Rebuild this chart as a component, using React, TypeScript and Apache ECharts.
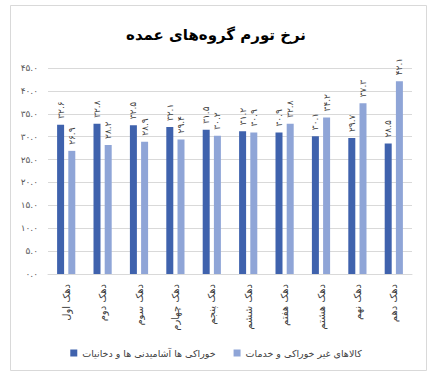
import React, { useEffect, useRef } from "react";
import * as echarts from "echarts";

const title = "نرخ تورم گروه‌های عمده";
const categories = ["دهک اول", "دهک دوم", "دهک سوم", "دهک چهارم", "دهک پنجم", "دهک ششم", "دهک هفتم", "دهک هشتم", "دهک نهم", "دهک دهم"];
const foodName = "خوراکی ها آشامیدنی ها و دخانیات";
const nonFoodName = "کالاهای غیر خوراکی و خدمات";
const foodValues = [32.6, 32.8, 32.5, 32.1, 31.5, 31.2, 30.9, 30.1, 29.7, 28.5];
const nonFoodValues = [26.9, 28.2, 28.9, 29.4, 30.2, 30.9, 32.8, 34.2, 37.3, 42.1];
const yMin = 0;
const yMax = 45;
const yStep = 5;

const fa = "۰۱۲۳۴۵۶۷۸۹";
const toFa = (v: number) => v.toFixed(1).replace(/[0-9]/g, (d) => fa[+d]);

const FONT = "DejaVu Sans";

export default function App() {
  const ref = useRef<HTMLDivElement>(null);
  useEffect(() => {
    const chart = echarts.init(ref.current!, null, { renderer: "svg" });
    const label = {
      show: true,
      position: "top",
      rotate: 90,
      align: "left",
      verticalAlign: "middle",
      distance: 6,
      color: "#404040",
      fontFamily: FONT,
      fontSize: 9,
      formatter: (p: any) => toFa(p.value),
    };
    chart.setOption({
      animation: false,
      textStyle: { fontFamily: FONT },
      title: {
        text: title,
        left: "center",
        top: 22,
        textStyle: { fontFamily: FONT, fontSize: 15, fontWeight: "bold", color: "#000" },
      },
      graphic: [
        {
          type: "rect",
          shape: { x: 10.5, y: 5.5, width: 416, height: 365 },
          style: { fill: "none", stroke: "#d9d9d9", lineWidth: 1 },
          silent: true,
        },
      ],
      legend: {
        bottom: 18,
        left: "center",
        itemGap: 18,
        itemWidth: 7,
        itemHeight: 7,
        icon: "rect",
        textStyle: { fontFamily: FONT, fontSize: 9.5, color: "#404040" },
        data: [foodName, nonFoodName],
      },
      grid: { left: 48, right: 20, top: 68, bottom: 107, containLabel: false },
      xAxis: {
        type: "category",
        data: categories,
        axisLine: { lineStyle: { color: "#d9d9d9" } },
        axisTick: { show: false },
        axisLabel: {
          rotate: 90,
          color: "#404040",
          fontFamily: FONT,
          fontSize: 10,
          margin: 10,
        },
      },
      yAxis: {
        type: "value",
        min: yMin,
        max: yMax,
        interval: yStep,
        axisLine: { show: false },
        axisTick: { show: false },
        splitLine: { lineStyle: { color: "#d9d9d9" } },
        axisLabel: {
          color: "#595959",
          fontFamily: FONT,
          fontSize: 9,
          margin: 10,
          formatter: (v: number) => toFa(v),
        },
      },
      series: [
        {
          name: foodName,
          type: "bar",
          data: foodValues,
          barWidth: 7,
          barGap: "60%",
          itemStyle: { color: "#3F62AD" },
          label,
        },
        {
          name: nonFoodName,
          type: "bar",
          data: nonFoodValues,
          barWidth: 7,
          barGap: "60%",
          itemStyle: { color: "#8FA5D7" },
          label,
        },
      ],
    });
    return () => chart.dispose();
  }, []);
  return (
    <div
      ref={ref}
      style={{ position: "fixed", left: 0, top: 0, width: 432, height: 381, background: "#fff" }}
    />
  );
}
